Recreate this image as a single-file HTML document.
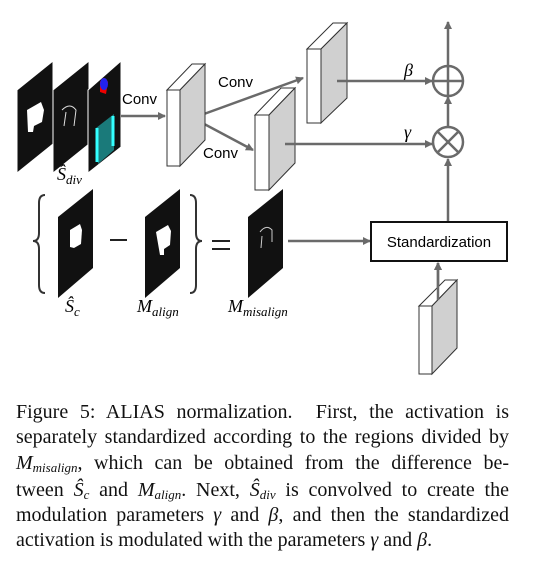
<!DOCTYPE html>
<html><head><meta charset="utf-8"><style>
body{margin:0;background:#fff;width:534px;height:562px;position:relative;overflow:hidden}
.cap{position:absolute;left:16px;width:493px;font-family:"Liberation Serif",serif;font-size:20px;line-height:26px;color:#111;text-align:justify;text-align-last:justify;white-space:nowrap}
.cap.l{text-align-last:left}
i{font-style:italic}
sub{font-size:13px;vertical-align:-3px;line-height:0}
</style></head><body>
<svg width="534" height="390" style="position:absolute;left:0;top:0" font-family="Liberation Sans, sans-serif">
<defs><marker id="a" markerWidth="8" markerHeight="8" refX="7" refY="4" orient="auto" markerUnits="userSpaceOnUse"><path d="M0,0 L8,4 L0,8 z" fill="#6a6a6a"/></marker></defs>
<g fill="#111" stroke="#fff" stroke-width="1">
<polygon points="17,90 53,61 53,144 17,173"/>
<polygon points="53,90 89,61 89,144 53,173"/>
<polygon points="88,90 121,61 121,147 88,173"/>
</g>
<path d="M27,110 l14,-8 l3,8 l-2,12 l-8,4 l-1,6 l-5,0z" fill="#fff"/>
<path d="M62,110 q8,-8 14,0 l-2,16 M66,112 l-2,14" stroke="#ddd" fill="none" stroke-width="1"/>
<path d="M100,82 q4,-8 8,0 l-2,12 l-6,-2z" fill="#e00"/>
<ellipse cx="104" cy="84" rx="4" ry="6" fill="#22e"/>
<polygon points="96,128 114,114 114,150 98,164" fill="#1a7a7a"/>
<path d="M97,128 l0,34 M113,116 l0,30" stroke="#3ff" stroke-width="3"/>
<text x="122" y="104" font-size="15">Conv</text>
<text x="218" y="87" font-size="15">Conv</text>
<text x="203" y="158" font-size="15">Conv</text>
<g stroke="#6a6a6a" stroke-width="2.5" fill="none">
<line x1="121" y1="116" x2="165" y2="116" marker-end="url(#a)"/>
<line x1="193" y1="118" x2="303" y2="78" marker-end="url(#a)"/>
<line x1="193" y1="118" x2="253" y2="150" marker-end="url(#a)"/>
</g>
<g stroke="#333" stroke-width="1">
<polygon points="167,90 192,64 205,64 180,90" fill="#fff"/>
<polygon points="180,90 205,64 205,140 180,166" fill="#d0d0d0"/>
<rect x="167" y="90" width="13" height="76" fill="#fff"/>
<polygon points="307,49 333,23 347,23 321,49" fill="#fff"/>
<polygon points="321,49 347,23 347,98 321,123" fill="#d0d0d0"/>
<rect x="307" y="49" width="14" height="74" fill="#fff"/>
<polygon points="255,115 281,88 295,88 269,115" fill="#fff"/>
<polygon points="269,115 295,88 295,163 269,190" fill="#d0d0d0"/>
<rect x="255" y="115" width="14" height="75" fill="#fff"/>
</g>
<g stroke="#6a6a6a" stroke-width="2.5" fill="none">
<line x1="337" y1="81" x2="432" y2="81" marker-end="url(#a)"/>
<line x1="285" y1="144" x2="432" y2="144" marker-end="url(#a)"/>
<line x1="448" y1="66" x2="448" y2="22" marker-end="url(#a)"/>
<line x1="448" y1="127" x2="448" y2="97" marker-end="url(#a)"/>
<line x1="448" y1="222" x2="448" y2="159" marker-end="url(#a)"/>
<circle cx="448" cy="81" r="15"/>
<line x1="433" y1="81" x2="463" y2="81"/><line x1="448" y1="66" x2="448" y2="96"/>
<circle cx="448" cy="142" r="15"/>
<line x1="437" y1="131" x2="459" y2="153"/><line x1="459" y1="131" x2="437" y2="153"/>
<line x1="288" y1="241" x2="370" y2="241" marker-end="url(#a)"/>
<line x1="438" y1="295" x2="438" y2="263" marker-end="url(#a)"/>
</g>
<text x="404" y="76" font-size="18" font-style="italic" font-family="Liberation Serif, serif">β</text>
<text x="404" y="138" font-size="18" font-style="italic" font-family="Liberation Serif, serif">γ</text>
<text x="57" y="180" font-size="18" font-style="italic" font-family="Liberation Serif, serif">Ŝ<tspan font-size="13" dy="4">div</tspan></text>
<path d="M45,195 q-6,0 -6,8 v30 q0,8 -6,8 q6,0 6,8 v36 q0,8 6,8" stroke="#333" stroke-width="2" fill="none"/>
<path d="M190,195 q6,0 6,8 v30 q0,8 6,8 q-6,0 -6,8 v36 q0,8 -6,8" stroke="#333" stroke-width="2" fill="none"/>
<line x1="110" y1="240" x2="127" y2="240" stroke="#222" stroke-width="2"/>
<line x1="212" y1="241" x2="230" y2="241" stroke="#222" stroke-width="2"/>
<line x1="212" y1="249" x2="230" y2="249" stroke="#222" stroke-width="2"/>
<g fill="#111">
<polygon points="58,217 93,189 93,268 58,298"/>
<polygon points="145,217 180,189 180,268 145,298"/>
<polygon points="248,217 283,189 283,268 248,298"/>
</g>
<path d="M70,230 l10,-6 l2,6 l-1,14 l-7,4 l-4,-1z" fill="#fff"/>
<path d="M156,232 l12,-7 l3,6 l-1,14 l-6,4 l0,6 l-4,0z" fill="#fff"/>
<path d="M260,232 q6,-8 12,-2 l0,12 M262,236 l-1,12" stroke="#ccc" fill="none"/>
<text x="65" y="312" font-size="18" font-style="italic" font-family="Liberation Serif, serif">Ŝ<tspan font-size="13" dy="4">c</tspan></text>
<text x="137" y="312" font-size="18" font-style="italic" font-family="Liberation Serif, serif">M<tspan font-size="13" dy="4">align</tspan></text>
<text x="228" y="312" font-size="18" font-style="italic" font-family="Liberation Serif, serif">M<tspan font-size="13" dy="4">misalign</tspan></text>
<rect x="371" y="222" width="136" height="39" fill="#fff" stroke="#111" stroke-width="2"/>
<text x="439" y="247" font-size="15" text-anchor="middle">Standardization</text>
<g stroke="#333" stroke-width="1">
<polygon points="419,306 445,280 457,280 432,306" fill="#fff"/>
<polygon points="432,306 457,280 457,348 432,374" fill="#d0d0d0"/>
<rect x="419" y="306" width="13" height="68" fill="#fff"/>
</g>
<line x1="438" y1="300" x2="438" y2="263" stroke="#6a6a6a" stroke-width="2.5" marker-end="url(#a)"/>
</svg>
<div class="cap" style="top:399px">Figure 5: ALIAS normalization.&nbsp; First, the activation is</div>
<div class="cap" style="top:424px">separately standardized according to the regions divided by</div>
<div class="cap" style="top:450px"><i>M<sub>misalign</sub></i>, which can be obtained from the difference be-</div>
<div class="cap" style="top:477px">tween <i>Ŝ<sub>c</sub></i> and <i>M<sub>align</sub></i>. Next, <i>Ŝ<sub>div</sub></i> is convolved to create the</div>
<div class="cap" style="top:502px">modulation parameters <i>γ</i> and <i>β</i>, and then the standardized</div>
<div class="cap l" style="top:527px">activation is modulated with the parameters <i>γ</i> and <i>β</i>.</div>
</body></html>
